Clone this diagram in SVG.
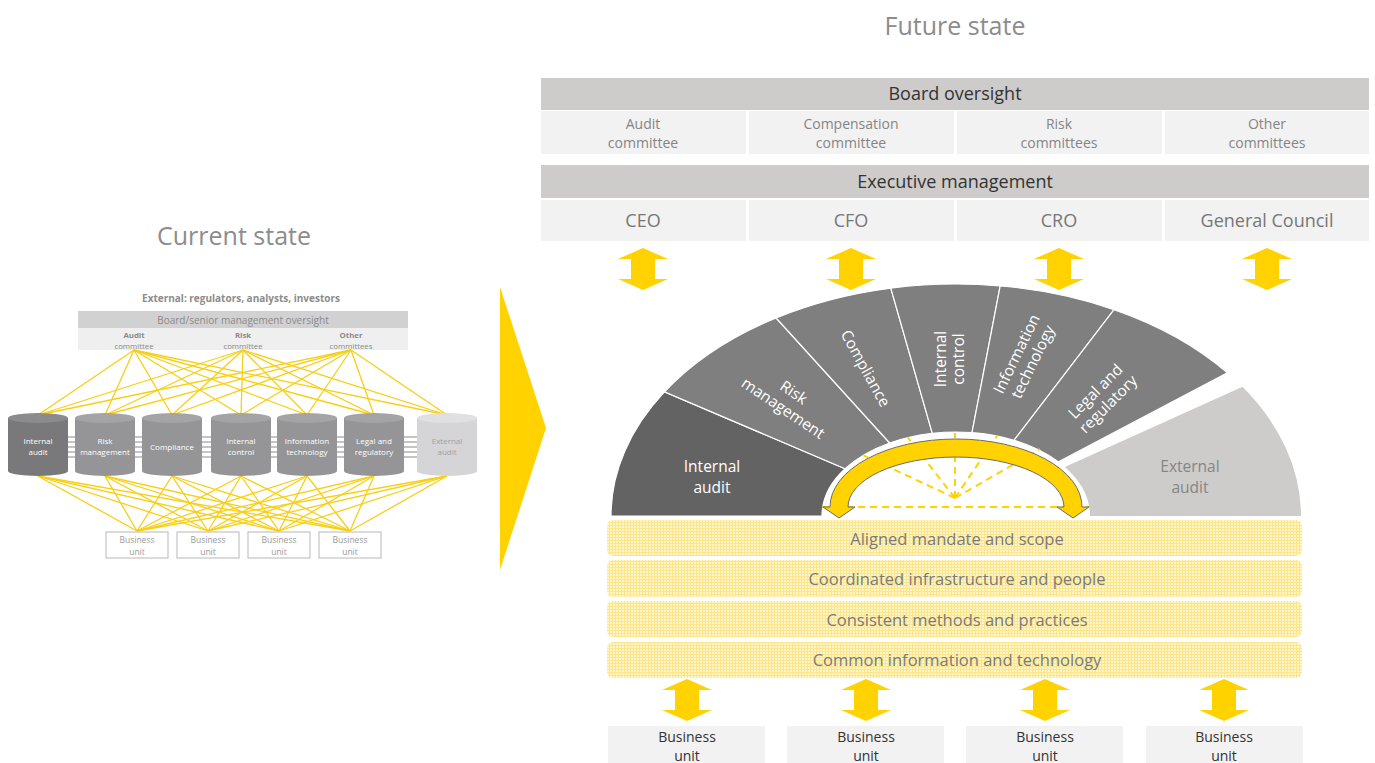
<svg xmlns="http://www.w3.org/2000/svg" xmlns:xlink="http://www.w3.org/1999/xlink" width="1375" height="763" viewBox="0 0 1375 763">
<style>
text{font-family:"Open Sans",Lato,"Liberation Sans",sans-serif;text-anchor:middle}
.title{font-size:25px;fill:#8c8c8c}
.net line{stroke:#f7cf14;stroke-width:1.3}
.cyl{fill:#959597}
.cyltop{fill:#a4a4a6}
.cyltxt{font-size:8px;fill:#fff}
.lbu{fill:#fff;stroke:#c4c4c4;stroke-width:1.2}
.lbutxt{font-size:8.5px;fill:#9a9a9a}
.bar{fill:#cdcccb}
.cell{fill:#f2f2f2}
.bartxt{font-size:18px;fill:#333}
.comtxt{font-size:14px;fill:#858585}
.exectxt{font-size:18px;fill:#777}
.seg{fill:#7f7f7f;stroke:#fff;stroke-width:1.2}
.segtxt{font-size:15.5px;fill:#fff}
.band{fill:url(#grid)}
.bandtxt{font-size:16.5px;fill:#7a7a7a}
.bu{fill:#f2f2f2}
.butxt{font-size:14px;fill:#333}
.dash{stroke:#ffd200;stroke-width:2;stroke-dasharray:7 5;fill:none}
</style>
<defs>
<pattern id="grid" width="3" height="3" patternUnits="userSpaceOnUse">
<rect width="3" height="3" fill="#fff5c6"/>
<path d="M0,0.5H3M0.5,0V3" stroke="#fbe68e" stroke-width="1"/>
</pattern>
<path id="darr" d="M0,0 L25,11 L12,11 L12,31 L25,31 L0,42 L-25,31 L-12,31 L-12,11 L-25,11 Z" fill="#ffd200"/>
</defs>
<rect width="1375" height="763" fill="#fff"/>

<!-- ===== Current state ===== -->
<text class="title" x="234" y="245">Current state</text>
<text x="241" y="302" style="font-size:10px;font-weight:bold;fill:#8c8c8c">External: regulators, analysts, investors</text>
<g id="left-board">
<rect x="78" y="311" width="330" height="17" fill="#d1d1d1"/>
<text x="243" y="324" style="font-size:10px;fill:#8a8a8a">Board/senior management oversight</text>
<rect x="78" y="328" width="330" height="22" fill="#efefef"/>
<text style="font-size:7.8px;fill:#8a8a8a"><tspan x="134" y="337.5" font-weight="bold">Audit</tspan><tspan x="134" y="348.5">committee</tspan></text>
<text style="font-size:7.8px;fill:#8a8a8a"><tspan x="243" y="337.5" font-weight="bold">Risk</tspan><tspan x="243" y="348.5">committee</tspan></text>
<text style="font-size:7.8px;fill:#8a8a8a"><tspan x="351" y="337.5" font-weight="bold">Other</tspan><tspan x="351" y="348.5">committees</tspan></text>
</g>

<g id="stripes" stroke="#c4c4c4" stroke-width="2.2">
<line x1="20" y1="437" x2="465" y2="437"/>
<line x1="20" y1="442" x2="465" y2="442"/>
<line x1="20" y1="447" x2="465" y2="447"/>
<line x1="20" y1="452" x2="465" y2="452"/>
<line x1="20" y1="457" x2="465" y2="457"/>
</g>

<g id="connectors">
<g class="net">
<line x1="134" y1="350" x2="38" y2="415"/><line x1="134" y1="350" x2="105" y2="415"/><line x1="134" y1="350" x2="172" y2="415"/><line x1="134" y1="350" x2="241" y2="415"/><line x1="134" y1="350" x2="307" y2="415"/><line x1="134" y1="350" x2="374" y2="415"/><line x1="134" y1="350" x2="447" y2="415"/>
<line x1="243" y1="350" x2="38" y2="415"/><line x1="243" y1="350" x2="105" y2="415"/><line x1="243" y1="350" x2="172" y2="415"/><line x1="243" y1="350" x2="241" y2="415"/><line x1="243" y1="350" x2="307" y2="415"/><line x1="243" y1="350" x2="374" y2="415"/><line x1="243" y1="350" x2="447" y2="415"/>
<line x1="351" y1="350" x2="38" y2="415"/><line x1="351" y1="350" x2="105" y2="415"/><line x1="351" y1="350" x2="172" y2="415"/><line x1="351" y1="350" x2="241" y2="415"/><line x1="351" y1="350" x2="307" y2="415"/><line x1="351" y1="350" x2="374" y2="415"/><line x1="351" y1="350" x2="447" y2="415"/>
<line x1="38" y1="476" x2="137" y2="531"/><line x1="38" y1="476" x2="208" y2="531"/><line x1="38" y1="476" x2="279" y2="531"/><line x1="38" y1="476" x2="350" y2="531"/>
<line x1="105" y1="476" x2="137" y2="531"/><line x1="105" y1="476" x2="208" y2="531"/><line x1="105" y1="476" x2="279" y2="531"/><line x1="105" y1="476" x2="350" y2="531"/>
<line x1="172" y1="476" x2="137" y2="531"/><line x1="172" y1="476" x2="208" y2="531"/><line x1="172" y1="476" x2="279" y2="531"/><line x1="172" y1="476" x2="350" y2="531"/>
<line x1="241" y1="476" x2="137" y2="531"/><line x1="241" y1="476" x2="208" y2="531"/><line x1="241" y1="476" x2="279" y2="531"/><line x1="241" y1="476" x2="350" y2="531"/>
<line x1="307" y1="476" x2="137" y2="531"/><line x1="307" y1="476" x2="208" y2="531"/><line x1="307" y1="476" x2="279" y2="531"/><line x1="307" y1="476" x2="350" y2="531"/>
<line x1="374" y1="476" x2="137" y2="531"/><line x1="374" y1="476" x2="208" y2="531"/><line x1="374" y1="476" x2="279" y2="531"/><line x1="374" y1="476" x2="350" y2="531"/>
<line x1="447" y1="476" x2="137" y2="531"/><line x1="447" y1="476" x2="208" y2="531"/><line x1="447" y1="476" x2="279" y2="531"/><line x1="447" y1="476" x2="350" y2="531"/>
</g>
<use xlink:href="#darr" href="#darr" x="643" y="248"/>
<use xlink:href="#darr" href="#darr" x="851" y="248"/>
<use xlink:href="#darr" href="#darr" x="1059" y="248"/>
<use xlink:href="#darr" href="#darr" x="1267" y="248"/>
<use xlink:href="#darr" href="#darr" x="687" y="679"/>
<use xlink:href="#darr" href="#darr" x="866" y="679"/>
<use xlink:href="#darr" href="#darr" x="1045" y="679"/>
<use xlink:href="#darr" href="#darr" x="1224" y="679"/>
</g>

<g id="cyl-internal-audit">
<path d="M8,418 V471 A30,5 0 0 0 68,471 V418 Z" fill="#79797b"/>
<ellipse cx="38" cy="418" rx="30" ry="5" fill="#8b8b8d"/>
<text class="cyltxt"><tspan x="38" y="444">Internal</tspan><tspan x="38" y="455">audit</tspan></text>
</g>
<g id="cyl-risk">
<path class="cyl" d="M75,418 V471 A30,5 0 0 0 135,471 V418 Z"/>
<ellipse class="cyltop" cx="105" cy="418" rx="30" ry="5"/>
<text class="cyltxt"><tspan x="105" y="444">Risk</tspan><tspan x="105" y="455">management</tspan></text>
</g>
<g id="cyl-compliance">
<path class="cyl" d="M142,418 V471 A30,5 0 0 0 202,471 V418 Z"/>
<ellipse class="cyltop" cx="172" cy="418" rx="30" ry="5"/>
<text class="cyltxt" x="172" y="450">Compliance</text>
</g>
<g id="cyl-internal-control">
<path class="cyl" d="M211,418 V471 A30,5 0 0 0 271,471 V418 Z"/>
<ellipse class="cyltop" cx="241" cy="418" rx="30" ry="5"/>
<text class="cyltxt"><tspan x="241" y="444">Internal</tspan><tspan x="241" y="455">control</tspan></text>
</g>
<g id="cyl-it">
<path class="cyl" d="M277,418 V471 A30,5 0 0 0 337,471 V418 Z"/>
<ellipse class="cyltop" cx="307" cy="418" rx="30" ry="5"/>
<text class="cyltxt"><tspan x="307" y="444">Information</tspan><tspan x="307" y="455">technology</tspan></text>
</g>
<g id="cyl-legal">
<path class="cyl" d="M344,418 V471 A30,5 0 0 0 404,471 V418 Z"/>
<ellipse class="cyltop" cx="374" cy="418" rx="30" ry="5"/>
<text class="cyltxt"><tspan x="374" y="444">Legal and</tspan><tspan x="374" y="455">regulatory</tspan></text>
</g>
<g id="cyl-external">
<path d="M417,418 V471 A30,5 0 0 0 477,471 V418 Z" fill="#d5d5d7"/>
<ellipse cx="447" cy="418" rx="30" ry="5" fill="#e0e0e2"/>
<text style="font-size:8px;fill:#a0a0a2"><tspan x="447" y="444">External</tspan><tspan x="447" y="455">audit</tspan></text>
</g>

<g id="left-bu-1"><rect class="lbu" x="106" y="532" width="62" height="26"/><text class="lbutxt"><tspan x="137" y="542.5">Business</tspan><tspan x="137" y="554.5">unit</tspan></text></g>
<g id="left-bu-2"><rect class="lbu" x="177" y="532" width="62" height="26"/><text class="lbutxt"><tspan x="208" y="542.5">Business</tspan><tspan x="208" y="554.5">unit</tspan></text></g>
<g id="left-bu-3"><rect class="lbu" x="248" y="532" width="62" height="26"/><text class="lbutxt"><tspan x="279" y="542.5">Business</tspan><tspan x="279" y="554.5">unit</tspan></text></g>
<g id="left-bu-4"><rect class="lbu" x="319" y="532" width="62" height="26"/><text class="lbutxt"><tspan x="350" y="542.5">Business</tspan><tspan x="350" y="554.5">unit</tspan></text></g>

<polygon id="chevron" points="500,287 546,428 500,570" fill="#ffd200"/>

<!-- ===== Future state ===== -->
<text class="title" x="955" y="35">Future state</text>

<g id="board-oversight">
<rect class="bar" x="541" y="78" width="828" height="32"/>
<text class="bartxt" x="955" y="100">Board oversight</text>
</g>
<g id="audit-committee"><rect class="cell" x="541" y="111" width="205" height="43"/><text class="comtxt"><tspan x="643" y="128.5">Audit</tspan><tspan x="643" y="147.5">committee</tspan></text></g>
<g id="compensation-committee"><rect class="cell" x="749" y="111" width="205" height="43"/><text class="comtxt"><tspan x="851" y="128.5">Compensation</tspan><tspan x="851" y="147.5">committee</tspan></text></g>
<g id="risk-committees"><rect class="cell" x="957" y="111" width="205" height="43"/><text class="comtxt"><tspan x="1059" y="128.5">Risk</tspan><tspan x="1059" y="147.5">committees</tspan></text></g>
<g id="other-committees"><rect class="cell" x="1165" y="111" width="204" height="43"/><text class="comtxt"><tspan x="1267" y="128.5">Other</tspan><tspan x="1267" y="147.5">committees</tspan></text></g>

<g id="executive-management">
<rect class="bar" x="541" y="165" width="828" height="33"/>
<text class="bartxt" x="955" y="188">Executive management</text>
</g>
<g id="ceo"><rect class="cell" x="541" y="200" width="205" height="41"/><text class="exectxt" x="643" y="227">CEO</text></g>
<g id="cfo"><rect class="cell" x="749" y="200" width="205" height="41"/><text class="exectxt" x="851" y="227">CFO</text></g>
<g id="cro"><rect class="cell" x="957" y="200" width="205" height="41"/><text class="exectxt" x="1059" y="227">CRO</text></g>
<g id="general-council"><rect class="cell" x="1165" y="200" width="204" height="41"/><text class="exectxt" x="1267" y="227">General Council</text></g>

<g id="seg-internal-audit">
<path class="seg" style="fill:#636363" d="M611,516 A345,232 0 0 1 664.5,391.9 L845.1,468.8 A134,84 0 0 0 822,516 Z"/>
<text class="segtxt"><tspan x="712" y="472">Internal</tspan><tspan x="712" y="493">audit</tspan></text>
</g>
<g id="seg-risk-management">
<path class="seg" d="M664.5,391.9 A345,232 0 0 1 776.1,318 L889.7,443 A134,84 0 0 0 845.1,468.8 Z"/>
<text class="segtxt" transform="translate(788,401) rotate(34)"><tspan x="0" y="-5">Risk</tspan><tspan x="0" y="14">management</tspan></text>
</g>
<g id="seg-compliance">
<path class="seg" d="M776.1,318 A345,232 0 0 1 890.8,288.2 L932.3,433.3 A134,84 0 0 0 889.7,443 Z"/>
<text class="segtxt" transform="translate(866,368) rotate(61)" x="0" y="6">Compliance</text>
</g>
<g id="seg-internal-control">
<path class="seg" d="M890.8,288.2 A345,232 0 0 1 1000.2,285.9 L972,432.6 A134,84 0 0 0 932.3,433.3 Z"/>
<text class="segtxt" transform="translate(951,359) rotate(-90)"><tspan x="0" y="-5">Internal</tspan><tspan x="0" y="13">control</tspan></text>
</g>
<g id="seg-information-technology">
<path class="seg" d="M1000.2,285.9 A345,232 0 0 1 1114,309.7 L1014,440.3 A134,84 0 0 0 972,432.6 Z"/>
<text class="segtxt" transform="translate(1025,358) rotate(-64)"><tspan x="0" y="-4">Information</tspan><tspan x="0" y="14">technology</tspan></text>
</g>
<g id="seg-legal-regulatory">
<path class="seg" d="M1114,309.7 A345,232 0 0 1 1227.4,372.8 L1058.5,461.9 A134,84 0 0 0 1014,440.3 Z"/>
<text class="segtxt" transform="translate(1102,398) rotate(-45)"><tspan x="0" y="-4">Legal and</tspan><tspan x="0" y="14">regulatory</tspan></text>
</g>
<g id="seg-external-audit">
<path d="M1242.5,386.8 A345,232 0 0 1 1301,516 L1090,516 A134,84 0 0 0 1064.8,466.9 Z" fill="#cdcccb"/>
<text style="font-size:15.5px;fill:#858585"><tspan x="1190" y="472">External</tspan><tspan x="1190" y="493">audit</tspan></text>
</g>

<g id="inner-rays" class="dash">
<line x1="955" y1="498" x2="955" y2="433"/>
<line x1="955" y1="498" x2="907.9" y2="437.7"/>
<line x1="955" y1="498" x2="863.5" y2="455.3"/>
<line x1="955" y1="498" x2="997" y2="436"/>
<line x1="955" y1="498" x2="1040" y2="449"/>
<line x1="822" y1="507" x2="1090" y2="507"/>
</g>
<path id="cycle-arrow" d="M830,507 A126,68 0 0 1 1082,507 L1089,507 L1073,518 L1057,507 L1064,507 A108,50 0 0 0 848,507 L855,507 L839,518 L823,507 Z" fill="#ffd200" stroke="#6b6b6b" stroke-width="1"/>

<g id="band-aligned"><rect class="band" x="607" y="520" width="695" height="36" rx="6"/><text class="bandtxt" x="957" y="545">Aligned mandate and scope</text></g>
<g id="band-coordinated"><rect class="band" x="607" y="560" width="695" height="37" rx="6"/><text class="bandtxt" x="957" y="585">Coordinated infrastructure and people</text></g>
<g id="band-consistent"><rect class="band" x="607" y="601" width="695" height="36" rx="6"/><text class="bandtxt" x="957" y="626">Consistent methods and practices</text></g>
<g id="band-common"><rect class="band" x="607" y="642" width="695" height="36" rx="6"/><text class="bandtxt" x="957" y="666">Common information and technology</text></g>

<g id="bu-1"><rect class="bu" x="608" y="726" width="157" height="37"/><text class="butxt"><tspan x="687" y="741.5">Business</tspan><tspan x="687" y="760.5">unit</tspan></text></g>
<g id="bu-2"><rect class="bu" x="787" y="726" width="157" height="37"/><text class="butxt"><tspan x="866" y="741.5">Business</tspan><tspan x="866" y="760.5">unit</tspan></text></g>
<g id="bu-3"><rect class="bu" x="966" y="726" width="157" height="37"/><text class="butxt"><tspan x="1045" y="741.5">Business</tspan><tspan x="1045" y="760.5">unit</tspan></text></g>
<g id="bu-4"><rect class="bu" x="1146" y="726" width="157" height="37"/><text class="butxt"><tspan x="1224" y="741.5">Business</tspan><tspan x="1224" y="760.5">unit</tspan></text></g>
</svg>
